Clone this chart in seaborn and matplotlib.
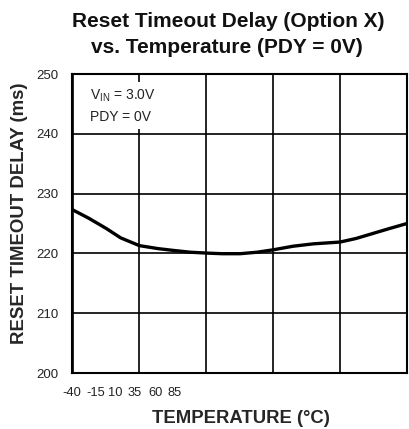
import matplotlib
matplotlib.use("Agg")
import matplotlib.pyplot as plt
import seaborn as sns
import pandas as pd
import numpy as np

# data
temperature = [-40, -34, -27.5, -22, -15, -8, -2.3, 4, 10.3, 16, 22.6, 29, 35, 42.4, 50, 60, 66, 72, 78, 85]
delay = [227.3, 225.9, 224.2, 222.6, 221.3, 220.8, 220.5, 220.2, 220.05, 219.95, 219.95, 220.2, 220.6, 221.2, 221.6, 221.9, 222.5, 223.3, 224.1, 225.0]
x_ticks = [-40, -15, 10, 35, 60, 85]
x_tick_labels = ["-40", "-15", "10", "35", "60", "85"]
y_ticks = [200, 210, 220, 230, 240, 250]
# the reference prints its x tick labels packed together at the left edge
x_label_positions = [-40.2, -31.4, -24.0, -16.7, -9.0, -1.8]

sns.set_theme(style="white")
plt.rcParams['font.family'] = ['Liberation Sans', 'DejaVu Sans']

df = pd.DataFrame({"Temperature": temperature, "Delay": delay})

fig = plt.figure(figsize=(4.09, 4.29), dpi=100)
ax = fig.add_axes([0.176, 0.1305, 0.819, 0.697])

sns.lineplot(data=df, x="Temperature", y="Delay", ax=ax, color="black", linewidth=2.4)

ax.set_xlim(-40, 85)
ax.set_ylim(200, 250)
ax.set_yticks(y_ticks)
ax.set_yticklabels([str(v) for v in y_ticks], fontsize=9.5, color="#222222")

ax.xaxis.remove_overlapping_locs = False
ax.set_xticks(x_ticks)
ax.set_xticklabels([""] * len(x_ticks))
ax.set_xticks(x_label_positions, minor=True)
ax.set_xticklabels(x_tick_labels, minor=True, fontsize=9.3, color="#222222")
ax.tick_params(axis="x", which="both", length=0, pad=10)
ax.tick_params(axis="y", length=0, pad=10)

ax.grid(True, which="major", color="black", linewidth=1.2)
for s in ax.spines.values():
    s.set_color("black")
    s.set_linewidth(1.5)

ax.set_xlabel("TEMPERATURE (°C)", fontsize=13.3, fontweight="bold", va="baseline")
ax.xaxis.set_label_coords(0.503, -0.167)
ax.set_ylabel("RESET TIMEOUT DELAY (ms)", fontsize=13.4, fontweight="bold", va="center")
ax.yaxis.set_label_coords(-0.158, 0.535)

ax.text(0.055, 0.955, r"V$_{\mathregular{IN}}$ = 3.0V" + "\nPDY = 0V", transform=ax.transAxes,
        fontsize=10, va="top", ha="left", linespacing=1.6, color="#222222",
        bbox=dict(facecolor="white", edgecolor="none", pad=3))

fig.text(0.557, 0.938, "Reset Timeout Delay (Option X)", ha="center", va="baseline",
         fontsize=15, fontweight="bold", color="#111111")
fig.text(0.555, 0.8776, "vs. Temperature (PDY = 0V)", ha="center", va="baseline",
         fontsize=15, fontweight="bold", color="#111111")

fig.savefig("out.png", dpi=100)
